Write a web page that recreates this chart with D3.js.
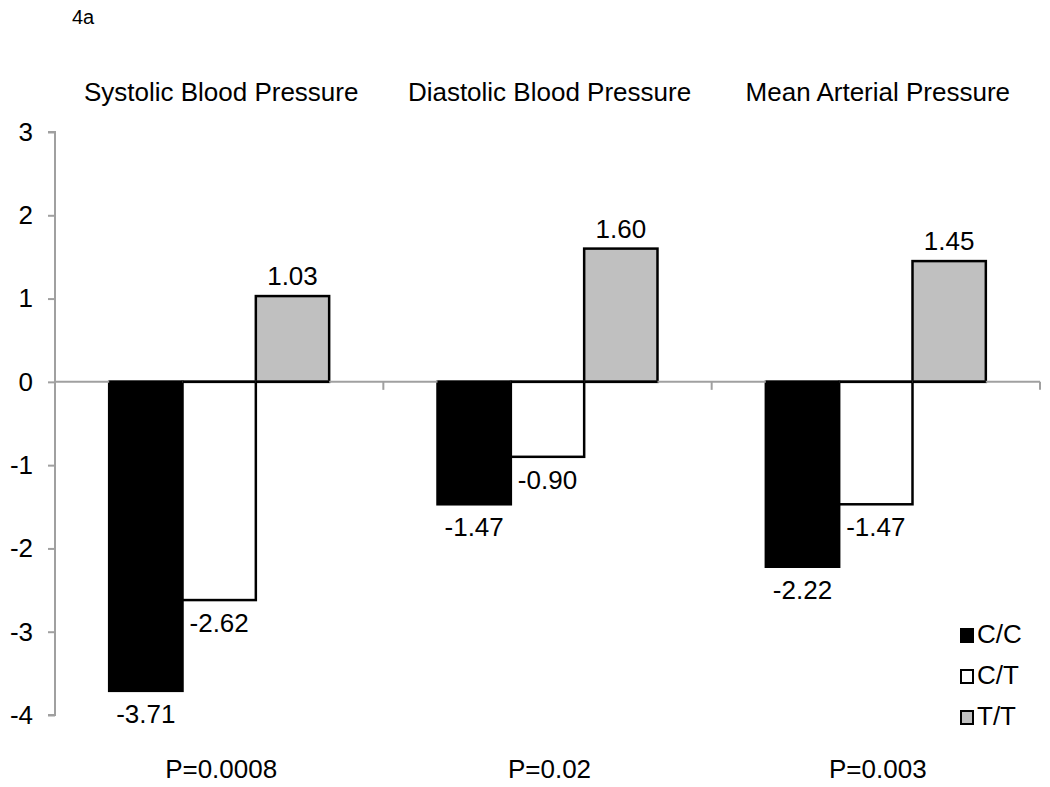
<!DOCTYPE html>
<html><head><meta charset="utf-8">
<script src="https://cdn.jsdelivr.net/npm/d3@7"></script>
<style>body{margin:0;background:#fff}svg{display:block}text{font-family:"Liberation Sans",Arial,sans-serif;fill:#000}</style>
</head><body>
<svg id="c" width="1050" height="787"></svg>
<script>
const categories = ["Systolic Blood Pressure","Diastolic Blood Pressure","Mean Arterial Pressure"];
const pValues = ["P=0.0008","P=0.02","P=0.003"];
const series = ["C/C","C/T","T/T"];
const valuesCC = [-3.71,-1.47,-2.22];
const valuesCT = [-2.62,-0.90,-1.47];
const valuesTT = [1.03,1.60,1.45];
const yTicks = [3,2,1,0,-1,-2,-3,-4];
const fills = ["#000000","#ffffff","#c0c0c0"];
const allValues = [valuesCC,valuesCT,valuesTT];

const svg = d3.select("#c");
const pLeft = 55, pRight = 1040, pTop = 132, pBottom = 715;
const FS = 26;
const y = d3.scaleLinear().domain([-4,3]).range([pBottom, pTop]);
const x = d3.scaleBand().domain(categories).range([pLeft, pRight]).paddingInner(0).paddingOuter(0);
const groupW = x.bandwidth() * 0.67;
const xsub = d3.scaleBand().domain(series).range([(x.bandwidth()-groupW)/2, (x.bandwidth()+groupW)/2]);

svg.append("text").attr("x",72).attr("y",24).attr("font-size",20).text("4a");

// y axis
const yAxis = d3.axisLeft(y).tickValues(yTicks).tickSize(7).tickFormat(d => String(d));
const ga = svg.append("g").attr("transform",`translate(${pLeft},0)`).call(yAxis);
ga.attr("font-size",FS).attr("font-family","Liberation Sans, Arial, sans-serif");
ga.select(".domain").attr("stroke","#a0a0a0").attr("stroke-width",2).attr("d",`M-7,${pTop}H0V${pBottom}H-7`);
ga.selectAll(".tick line").attr("stroke","#a0a0a0").attr("stroke-width",2);
ga.selectAll(".tick text").attr("font-size",FS).attr("x",-22).attr("fill","#000");

// bars
categories.forEach((c,i)=>{
  series.forEach((s,j)=>{
    const v = allValues[j][i];
    const bx = x(c)+xsub(s);
    svg.append("rect").attr("x",bx).attr("width",xsub.bandwidth())
      .attr("y",y(Math.max(0,v))).attr("height",Math.abs(y(v)-y(0)))
      .attr("fill",fills[j]).attr("stroke","#000").attr("stroke-width",2.5);
  });
});

// zero axis with category ticks
const gx = svg.append("g").attr("transform",`translate(0,${y(0)})`)
  .call(d3.axisBottom(x).tickValues([]).tickSize(0));
gx.select(".domain").attr("stroke","#a0a0a0").attr("stroke-width",2).attr("d",`M${pLeft},0H${pRight}`);
categories.forEach((c,i)=>{
  svg.append("line").attr("x1",x(c)+x.bandwidth()).attr("x2",x(c)+x.bandwidth())
    .attr("y1",y(0)).attr("y2",y(0)+8).attr("stroke","#a0a0a0").attr("stroke-width",2);
});
categories.forEach((c,i)=>{
  series.forEach((s,j)=>{
    const bx = x(c)+xsub(s);
    svg.append("line").attr("x1",bx).attr("x2",bx+xsub.bandwidth()).attr("y1",y(0)).attr("y2",y(0)).attr("stroke","#000").attr("stroke-width",2.5);
  });
});

// value labels
categories.forEach((c,i)=>{
  series.forEach((s,j)=>{
    const v = allValues[j][i];
    const cx = x(c)+xsub(s)+xsub.bandwidth()/2;
    svg.append("text").attr("x",cx).attr("y", v>=0 ? y(v)-11 : y(v)+32)
      .attr("text-anchor","middle").attr("font-size",FS).text(v.toFixed(2));
  });
});

// category titles and p-values
categories.forEach((c,i)=>{
  svg.append("text").attr("x",x(c)+x.bandwidth()/2+2).attr("y",101).attr("text-anchor","middle").attr("font-size",FS).text(c);
  svg.append("text").attr("x",x(c)+x.bandwidth()/2+2).attr("y",778).attr("text-anchor","middle").attr("font-size",FS).text(pValues[i]);
});

// legend
series.forEach((s,j)=>{
  const ly = 635 + j*41;
  svg.append("rect").attr("x",961).attr("y",ly-6).attr("width",12).attr("height",13)
    .attr("fill",fills[j]).attr("stroke","#000").attr("stroke-width",2);
  svg.append("text").attr("x",977).attr("y",ly+8).attr("font-size",FS).text(s);
});
</script>
</body></html>
